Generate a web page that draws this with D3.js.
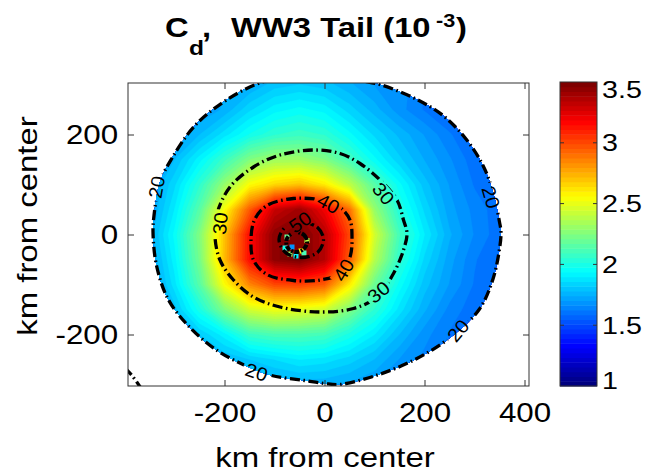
<!DOCTYPE html>
<html>
<head>
<meta charset="utf-8">
<script src="https://cdn.jsdelivr.net/npm/d3@7"></script>
<style>
  body { margin: 0; background: #fff; }
  text { font-family: "Liberation Sans", Arial, Helvetica, sans-serif; }
</style>
</head>
<body>
<div id="chart"></div>
<script>
// drag coefficient field (10^-3), sampled every 50 km; null = no data
const n = null;
const gridX = [-400, -350, -300, -250, -200, -150, -100, -50, 0, 50, 100, 150, 200, 250, 300, 350, 400];
const gridY = [350, 300, 250, 200, 150, 100, 50, 0, -50, -100, -150, -200, -250, -300, -350];
const cdGrid = [
  [n, n, n, n, n, n, n, n, n, n, n, n, n, n, n, n, n],
  [n, n, n, n, n, 1.74, 1.8, 1.82, 1.8, 1.75, 1.7, n, n, n, n, n, n],
  [n, n, n, 1.7, 1.75, 1.85, 1.92, 1.95, 1.92, 1.84, 1.76, 1.68, 1.62, 1.58, n, n, n],
  [n, n, 1.7, 1.78, 1.88, 1.98, 2.05, 2.08, 2.05, 1.95, 1.85, 1.77, 1.7, 1.63, 1.58, n, n],
  [n, 1.7, 1.78, 1.92, 2.08, 2.25, 2.32, 2.32, 2.25, 2.1, 1.95, 1.83, 1.74, 1.67, 1.6, 1.56, n],
  [n, 1.72, 1.85, 2.05, 2.3, 2.55, 2.65, 2.7, 2.6, 2.4, 2.15, 1.95, 1.8, 1.7, 1.62, 1.58, n],
  [n, 1.72, 1.9, 2.15, 2.55, 2.95, 3.3, 3.4, 3.2, 2.9, 2.3, 2.02, 1.85, 1.72, 1.65, 1.6, n],
  [n, 1.75, 1.95, 2.25, 2.7, 3.15, 3.45, 3.5, 3.35, 3.0, 2.45, 2.1, 1.9, 1.75, 1.66, 1.6, 1.58],
  [n, 1.72, 1.92, 2.22, 2.72, 3.15, 3.45, 3.5, 3.35, 2.95, 2.38, 2.05, 1.85, 1.72, 1.63, 1.58, n],
  [n, 1.7, 1.88, 2.15, 2.55, 2.85, 3.0, 3.02, 2.95, 2.6, 2.2, 1.96, 1.8, 1.7, 1.62, 1.58, n],
  [n, n, 1.8, 2.0, 2.25, 2.45, 2.52, 2.5, 2.45, 2.25, 2.05, 1.88, 1.75, 1.65, 1.6, n, n],
  [n, n, 1.75, 1.82, 1.92, 2.08, 2.12, 2.12, 2.1, 2.0, 1.9, 1.78, 1.68, 1.62, n, n, n],
  [n, n, n, 1.72, 1.78, 1.82, 1.86, 1.9, 1.88, 1.84, 1.78, 1.7, 1.65, n, n, n, n],
  [n, n, n, n, n, 1.72, 1.74, 1.75, 1.75, 1.73, 1.7, n, n, n, n, n, n],
  [n, n, n, n, n, n, n, n, n, n, n, n, n, n, n, n, n]
];
// noisy cells inside the eye [x km, y km, Cd]
const eyeCells = [[-79, -27, 2.0], [-69, -39, 2.3], [-47, -33, 2.6], [-57, -43, 1.9], [-41, -37, 2.1],
  [-65, -25, 1.7], [-35, -12, 2.4], [-75, -5, 2.2]];

// wind speed contours (m/s), points in km from center
const contour20 = [[-20, 320], [82, 306], [117, 298], [183, 271], [237, 238], [283, 191], [317, 138], [337, 85],
  [350, 25], [353, 5], [350, -29], [337, -89], [310, -149], [257, -202], [183, -249], [103, -282], [30, -300],
  [0, -298], [-40, -292], [-106, -282], [-159, -262], [-219, -229], [-273, -182], [-313, -129], [-336, -62],
  [-343, 5], [-341, 38], [-329, 105], [-306, 151], [-259, 218], [-193, 271], [-127, 304], [-60, 318]];
const contour20Corner = [[-400, -266], [-385, -282], [-368, -306]];
const contour30 = [[-22, 169], [31, 162], [71, 142], [111, 109], [145, 69], [158, 29], [165, 2], [158, -31],
  [138, -78], [105, -125], [58, -148], [-9, -155], [-89, -145], [-142, -125], [-182, -91], [-209, -51],
  [-219, -5], [-215, 42], [-189, 95], [-142, 135], [-89, 159]];
const contour40 = [[-9, 70], [11, 67], [33, 53], [51, 29], [55, -5], [51, -45], [31, -78], [-9, -91], [-62, -92],
  [-115, -80], [-142, -51], [-147, -11], [-140, 29], [-115, 58], [-62, 72]];
const contour50 = [[-47, 25], [-14, 14], [-2, -10], [-14, -36], [-47, -46], [-78, -36], [-91, -10], [-78, 15]];
const eyeRing = [[-58, 5], [-40, -2], [-35, -17], [-44, -31], [-60, -35], [-74, -26], [-75, -8]];
// contour labels: [level, x km, y km, angle deg]
const contourLabels = [
  [20, -336, 95, -80], [20, 333, 75, 74], [20, 267, -192, -50], [20, -136, -275, 18],
  [30, -209, 22, -84], [30, 118, 82, 50], [30, 108, -115, -40],
  [40, 8, 62, 28], [40, 38, -71, -60], [50, -49, 25, -35]
];

const xTicks = [-200, 0, 200, 400];
const yTicks = [-200, 0, 200];
const cbTicks = [1, 1.5, 2, 2.5, 3, 3.5];
const cdRange = [1, 3.5];
const nColors = 64;

const width = 652, height = 472;
const plot = { left: 128, right: 529, top: 83, bottom: 386 };
const cb = { left: 560, right: 597, top: 82, bottom: 386 };

const svg = d3.select('#chart').append('svg').attr('width', width).attr('height', height);
const defs = svg.append('defs');

const x = d3.scaleLinear().domain([-393, 409]).range([plot.left, plot.right]);
const y = d3.scaleLinear().domain([-303, 303]).range([plot.bottom, plot.top]);

// MATLAB jet colormap
const jet = d3.scaleLinear()
  .domain([0, 0.125, 0.375, 0.625, 0.875, 1])
  .range(['#00007f', '#0000ff', '#00ffff', '#ffff00', '#ff0000', '#7f0000'])
  .clamp(true);
const step = (cdRange[1] - cdRange[0]) / nColors;
const bandColor = (k) => jet(k / (nColors - 1));
const cdColor = (v) => bandColor(Math.max(0, Math.min(nColors - 1, Math.floor((v - cdRange[0]) / step))));

const lineClosed = d3.line().x((d) => x(d[0])).y((d) => y(d[1])).curve(d3.curveCatmullRomClosed.alpha(0.5));
const lineOpen = d3.line().x((d) => x(d[0])).y((d) => y(d[1])).curve(d3.curveCatmullRom.alpha(0.5));

defs.append('clipPath').attr('id', 'plotClip')
  .append('rect')
  .attr('x', plot.left).attr('y', plot.top)
  .attr('width', plot.right - plot.left).attr('height', plot.bottom - plot.top);
defs.append('clipPath').attr('id', 'dataClip')
  .append('path').attr('d', lineClosed(contour20));

// fill the no-data nodes so the contouring has a full grid (hidden by the clip)
function padGrid(rows) {
  let g = rows.map((r) => r.slice());
  for (let pass = 0; pass < 30; pass++) {
    let missing = false;
    const next = g.map((r) => r.slice());
    g.forEach((row, j) => row.forEach((v, i) => {
      if (v !== null) return;
      const nb = [[j - 1, i], [j + 1, i], [j, i - 1], [j, i + 1]]
        .map(([a, b]) => (g[a] ? g[a][b] : null))
        .filter((u) => u != null);
      if (nb.length) next[j][i] = d3.mean(nb);
      else missing = true;
    }));
    g = next;
    if (!missing) break;
  }
  return g;
}

const values = padGrid(cdGrid).flat();
const dxKm = gridX[1] - gridX[0];
const dyKm = gridY[0] - gridY[1];
const gridProj = d3.geoTransform({
  point(px, py) {
    this.stream.point(x(gridX[0] + (px - 0.5) * dxKm), y(gridY[0] - (py - 0.5) * dyKm));
  }
});
const thresholds = d3.range(nColors).map((k) => cdRange[0] + k * step);
const bands = d3.contours().size([gridX.length, gridY.length]).thresholds(thresholds)(values);

const plotG = svg.append('g').attr('clip-path', 'url(#plotClip)');
const field = plotG.append('g').attr('clip-path', 'url(#dataClip)');
field.selectAll('path')
  .data(bands)
  .join('path')
  .attr('d', d3.geoPath(gridProj))
  .attr('fill', (d, i) => bandColor(i))
  .attr('stroke', (d, i) => bandColor(i))
  .attr('stroke-width', 0.3);

field.selectAll('rect.eye')
  .data(eyeCells)
  .join('rect')
  .attr('class', 'eye')
  .attr('x', (d) => x(d[0]) - 2.5).attr('y', (d) => y(d[1]) - 2.5)
  .attr('width', 5).attr('height', 5)
  .attr('fill', (d) => cdColor(d[2]));

// gaps in the contour lines behind the labels
const mask = defs.append('mask').attr('id', 'labelMask')
  .attr('maskUnits', 'userSpaceOnUse')
  .attr('x', 0).attr('y', 0).attr('width', width).attr('height', height);
mask.append('rect').attr('width', width).attr('height', height).attr('fill', '#fff');
mask.selectAll('rect.gap')
  .data(contourLabels)
  .join('rect')
  .attr('class', 'gap')
  .attr('x', -14).attr('y', -8).attr('width', 28).attr('height', 16)
  .attr('transform', (d) => `translate(${x(d[1])},${y(d[2])}) rotate(${d[3]})`)
  .attr('fill', '#000');

const lines = plotG.append('g')
  .attr('mask', 'url(#labelMask)')
  .attr('fill', 'none')
  .attr('stroke', '#000')
  .attr('stroke-width', 3.3)
  .attr('stroke-dasharray', '10,3.5,1.6,3.5');
[contour20, contour30, contour40, contour50].forEach((c) => {
  lines.append('path').attr('d', lineClosed(c));
});
lines.append('path').attr('d', lineOpen(contour20Corner));
lines.append('path').attr('d', lineClosed(eyeRing)).attr('stroke-dasharray', '5,1.5,2,1.5').attr('stroke-width', 4);

plotG.append('g')
  .selectAll('text')
  .data(contourLabels)
  .join('text')
  .attr('transform', (d) => `translate(${x(d[1])},${y(d[2])}) rotate(${d[3]}) scale(1.06,1)`)
  .attr('text-anchor', 'middle')
  .attr('dy', '0.36em')
  .attr('font-size', 19)
  .attr('fill', '#000')
  .text((d) => d[0]);

// axes box and ticks
const tickFont = 27, tickStretch = 1.16;
const axisColor = '#333';
const plain = (d) => String(d);
const xAxis = svg.append('g')
  .attr('transform', `translate(0,${plot.bottom})`)
  .call(d3.axisBottom(x).tickValues(xTicks).tickFormat(plain).tickSize(-6).tickSizeOuter(0).tickPadding(17));
const yAxis = svg.append('g')
  .attr('transform', `translate(${plot.left},0)`)
  .call(d3.axisLeft(y).tickValues(yTicks).tickFormat(plain).tickSize(-6).tickSizeOuter(0).tickPadding(8.5));
const xTop = svg.append('g')
  .attr('transform', `translate(0,${plot.top})`)
  .call(d3.axisTop(x).tickValues(xTicks).tickSize(-6).tickSizeOuter(0).tickFormat(''));
const yRight = svg.append('g')
  .attr('transform', `translate(${plot.right},0)`)
  .call(d3.axisRight(y).tickValues(yTicks).tickSize(-6).tickSizeOuter(0).tickFormat(''));

[xAxis, yAxis, xTop, yRight].forEach((a) => {
  a.select('.domain').remove();
  a.attr('color', axisColor)
    .attr('font-size', tickFont)
    .attr('font-family', '"Liberation Sans", Arial, sans-serif');
  a.selectAll('text').attr('fill', '#000').attr('transform', `scale(${tickStretch},1)`);
});

svg.append('rect')
  .attr('x', plot.left).attr('y', plot.top)
  .attr('width', plot.right - plot.left).attr('height', plot.bottom - plot.top)
  .attr('fill', 'none').attr('stroke', axisColor).attr('stroke-width', 1);

// colorbar
const cScale = d3.scaleLinear().domain(cdRange).range([cb.bottom, cb.top]);
svg.append('g')
  .selectAll('rect')
  .data(thresholds)
  .join('rect')
  .attr('x', cb.left)
  .attr('y', (d) => cScale(d + step))
  .attr('width', cb.right - cb.left)
  .attr('height', (d) => cScale(d) - cScale(d + step) + 0.5)
  .attr('fill', (d, i) => bandColor(i));
svg.append('rect')
  .attr('x', cb.left).attr('y', cb.top)
  .attr('width', cb.right - cb.left).attr('height', cb.bottom - cb.top)
  .attr('fill', 'none').attr('stroke', axisColor).attr('stroke-width', 1);
const cbTick = svg.append('g').attr('stroke', axisColor).attr('stroke-width', 1);
cbTicks.slice(1, -1).forEach((v) => {
  cbTick.append('line').attr('x1', cb.left).attr('x2', cb.left + 4).attr('y1', cScale(v)).attr('y2', cScale(v));
  cbTick.append('line').attr('x1', cb.right - 4).attr('x2', cb.right).attr('y1', cScale(v)).attr('y2', cScale(v));
});
svg.append('g')
  .selectAll('text')
  .data(cbTicks)
  .join('text')
  .attr('transform', (d) => `translate(602,${Math.max(90, Math.min(381, cScale(d)))}) scale(1.22,1)`)
  .attr('dy', '0.36em')
  .attr('font-size', 23.5)
  .attr('fill', '#000')
  .text((d) => d);

// axis labels
const labelFont = 27, labelStretch = 1.22;
svg.append('text')
  .attr('transform', `translate(325,467) scale(${labelStretch},1)`)
  .attr('text-anchor', 'middle')
  .attr('font-size', labelFont)
  .text('km from center');
svg.append('text')
  .attr('transform', `translate(37,226) rotate(-90) scale(${labelStretch},1)`)
  .attr('text-anchor', 'middle')
  .attr('font-size', labelFont)
  .text('km from center');

// title: C_d, WW3 Tail (10^-3)
const title = svg.append('g').attr('font-weight', 'bold').attr('fill', '#000');
const titleStretch = 1.17;
const titlePart = (txt, px, py, size) => title.append('text')
  .attr('transform', `translate(${px},${py}) scale(${titleStretch},1)`)
  .attr('font-size', size)
  .text(txt);
titlePart('C', 165, 37, 28);
titlePart('d', 189, 55, 21);
titlePart(',', 202, 37, 28);
titlePart('WW3 Tail (10', 231, 37, 28);
titlePart('-3', 436, 27, 18.5);
titlePart(')', 456, 37, 28);
</script>
</body>
</html>
